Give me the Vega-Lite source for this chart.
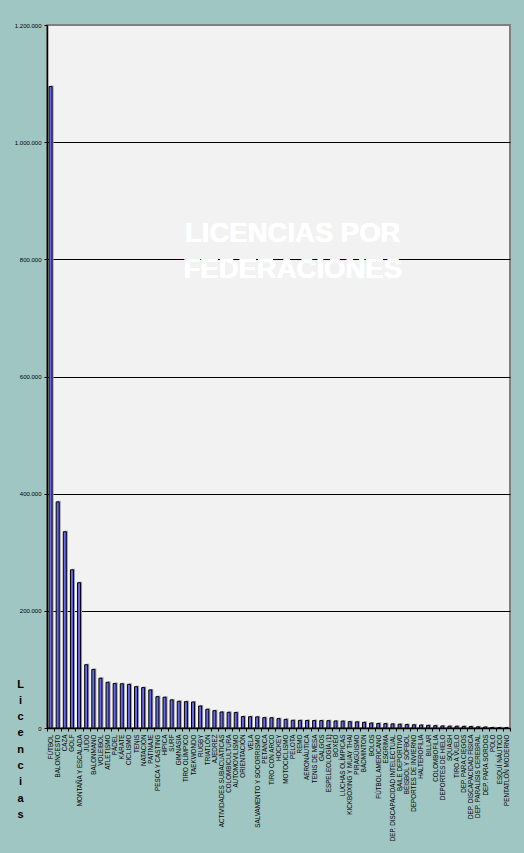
{
  "$schema": "https://vega.github.io/schema/vega-lite/v6.json",
  "width": 463,
  "height": 703,
  "autosize": {"type": "none"},
  "padding": {"left": 47, "top": 25, "right": 14, "bottom": 125},
  "background": "#A0C6C4",
  "config": {
    "locale": {"number": {"decimal": ",", "thousands": ".", "grouping": [3], "currency": ["", " €"]}},
    "view": {"fill": "#F2F2F2", "stroke": "#808080", "strokeWidth": 2}
  },
  "data": {
    "values": [
      {"federacion": "FÚTBOL", "licencias": 1095000},
      {"federacion": "BALONCESTO", "licencias": 386000},
      {"federacion": "CAZA", "licencias": 335000},
      {"federacion": "GOLF", "licencias": 270000},
      {"federacion": "MONTAÑA Y ESCALADA", "licencias": 248000},
      {"federacion": "JUDO", "licencias": 108000},
      {"federacion": "BALONMANO", "licencias": 100000},
      {"federacion": "VOLEIBOL", "licencias": 85000},
      {"federacion": "ATLETISMO", "licencias": 78000},
      {"federacion": "PÁDEL", "licencias": 76000},
      {"federacion": "KÁRATE", "licencias": 75500},
      {"federacion": "CICLISMO", "licencias": 74500},
      {"federacion": "TENIS", "licencias": 70500},
      {"federacion": "NATACIÓN", "licencias": 69000},
      {"federacion": "PATINAJE", "licencias": 65000},
      {"federacion": "PESCA Y CASTING", "licencias": 53500},
      {"federacion": "HÍPICA", "licencias": 52500},
      {"federacion": "SURF", "licencias": 48000},
      {"federacion": "GIMNASIA", "licencias": 45600},
      {"federacion": "TIRO OLÍMPICO", "licencias": 45000},
      {"federacion": "TAEKWONDO", "licencias": 44400},
      {"federacion": "RUGBY", "licencias": 37600},
      {"federacion": "TRIATLÓN", "licencias": 32000},
      {"federacion": "AJEDREZ", "licencias": 29600},
      {"federacion": "ACTIVIDADES SUBACUÁTICAS", "licencias": 27300},
      {"federacion": "COLOMBICULTURA", "licencias": 26800},
      {"federacion": "AUTOMOVILISMO", "licencias": 26500},
      {"federacion": "ORIENTACIÓN", "licencias": 19500},
      {"federacion": "VELA", "licencias": 19300},
      {"federacion": "SALVAMENTO Y SOCORRISMO", "licencias": 19000},
      {"federacion": "PETANCA", "licencias": 17700},
      {"federacion": "TIRO CON ARCO", "licencias": 17500},
      {"federacion": "HOCKEY", "licencias": 16000},
      {"federacion": "MOTOCICLISMO", "licencias": 14800},
      {"federacion": "PELOTA", "licencias": 13200},
      {"federacion": "REMO", "licencias": 13000},
      {"federacion": "AERONÁUTICA", "licencias": 12900},
      {"federacion": "TENIS DE MESA", "licencias": 12800},
      {"federacion": "GALGOS", "licencias": 12700},
      {"federacion": "ESPELEOLOGÍA (1)", "licencias": 12500},
      {"federacion": "BOXEO", "licencias": 12000},
      {"federacion": "LUCHAS OLÍMPICAS", "licencias": 11800},
      {"federacion": "KICKBOXING Y MUAY THAI", "licencias": 10800},
      {"federacion": "PIRAGÜISMO", "licencias": 10500},
      {"federacion": "BÁDMINTON", "licencias": 9700},
      {"federacion": "BOLOS", "licencias": 8500},
      {"federacion": "FÚTBOL AMERICANO", "licencias": 7800},
      {"federacion": "ESGRIMA", "licencias": 7500},
      {"federacion": "DEP. DISCAPACIDAD INTELECTUAL", "licencias": 7000},
      {"federacion": "BAILE DEPORTIVO", "licencias": 6500},
      {"federacion": "BÉISBOL Y SÓFBOL", "licencias": 6000},
      {"federacion": "DEPORTES DE INVIERNO", "licencias": 5500},
      {"federacion": "HALTEROFILIA", "licencias": 5000},
      {"federacion": "BILLAR", "licencias": 4500},
      {"federacion": "COLOMBOFILIA", "licencias": 4000},
      {"federacion": "DEPORTES DE HIELO", "licencias": 3500},
      {"federacion": "SQUASH", "licencias": 3100},
      {"federacion": "TIRO A VUELO", "licencias": 3000},
      {"federacion": "DEP. PARA CIEGOS", "licencias": 2800},
      {"federacion": "DEP. DISCAPACIDAD FÍSICA", "licencias": 2500},
      {"federacion": "DEP. PARALÍSIS CEREBRAL", "licencias": 2000},
      {"federacion": "DEP. PARA SORDOS", "licencias": 1700},
      {"federacion": "POLO", "licencias": 800},
      {"federacion": "ESQUÍ NÁUTICO", "licencias": 600},
      {"federacion": "PENTATLÓN MODERNO", "licencias": 500}
    ]
  },
  "encoding": {
    "x": {
      "field": "federacion",
      "type": "nominal",
      "sort": null,
      "scale": {"paddingInner": 0, "paddingOuter": 0},
      "axis": {
        "title": null,
        "labelAngle": -90,
        "labelAlign": "right",
        "labelBaseline": "middle",
        "labelFont": "Liberation Sans Narrow, Liberation Sans, Arial",
        "labelFontSize": 6.3,
        "labelColor": "#000000",
        "labelPadding": 3,
        "labelOverlap": false,
        "domainColor": "#000000",
        "domainWidth": 1.5,
        "tickColor": "#000000",
        "tickSize": 3,
        "tickBand": "extent"
      }
    },
    "y": {
      "field": "licencias",
      "type": "quantitative",
      "scale": {"domain": [0, 1200000], "nice": false},
      "axis": {
        "values": [0, 200000, 400000, 600000, 800000, 1000000, 1200000],
        "format": ",d",
        "labelFont": "Liberation Sans, Arial",
        "labelFontSize": 6,
        "labelColor": "#000000",
        "labelPadding": 3,
        "domainColor": "#000000",
        "domainWidth": 1.5,
        "tickColor": "#000000",
        "tickSize": 3,
        "grid": true,
        "gridColor": {"condition": {"test": "datum.value >= 1200000", "value": "#808080"}, "value": "#000000"},
        "gridWidth": 1,
        "title": ["L", "i", "c", "e", "n", "c", "i", "a", "s"],
        "titleAngle": 0,
        "titleX": -27,
        "titleY": 653,
        "titleAlign": "center",
        "titleBaseline": "top",
        "titleFont": "Liberation Sans, Arial",
        "titleFontSize": 11,
        "titleFontWeight": "bold",
        "titleLineHeight": 16.3,
        "titleColor": "#000000"
      }
    }
  },
  "layer": [
    {
      "mark": {"type": "bar", "width": 3, "color": "#9A9A9A", "xOffset": 1.5, "yOffset": -1}
    },
    {
      "mark": {"type": "bar", "width": 3, "color": "#6666EE", "stroke": "#000000", "strokeWidth": 1}
    },
    {
      "mark": {
        "type": "text",
        "text": ["LICENCIAS POR", "FEDERACIONES"],
        "font": "Liberation Sans, Arial",
        "fontSize": 27.5,
        "fontWeight": "bold",
        "color": "#FFFFFF",
        "align": "center",
        "baseline": "middle",
        "lineHeight": 36
      },
      "encoding": {
        "x": {"datum": "PELOTA"},
        "y": {"datum": 843000}
      }
    }
  ]
}
